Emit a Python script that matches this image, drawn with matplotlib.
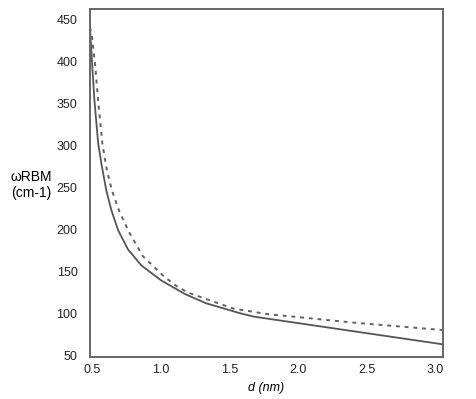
import matplotlib
matplotlib.use('Agg')
import matplotlib.pyplot as plt

# diametro del tubo (nm) y frecuencia RBM (cm-1)
dSolida = [0.485, 0.502, 0.517, 0.544, 0.568, 0.604, 0.641, 0.69, 0.762, 0.859,
           1.005, 1.176, 1.33, 1.58, 1.68, 3.06]
wSolida = [440, 393, 354, 303, 278, 246, 222.6, 198.8, 176, 157,
           139, 123, 112, 100, 96, 63]

dPunteada = [0.485, 0.50, 0.522, 0.545, 0.575, 0.608, 0.645, 0.70, 0.775, 0.87,
             1.03, 1.127, 1.21, 1.53, 1.78, 2.4, 3.06]
wPunteada = [440, 428, 396, 352, 302, 270, 246, 220.6, 195, 168,
             143, 131, 124, 105.6, 99, 89, 80]

ticksX = [0.5, 1.0, 1.5, 2.0, 2.5, 3.0]
ticksY = [50, 100, 150, 200, 250, 300, 350, 400, 450]

plt.rcParams['font.family'] = ['Liberation Sans', 'DejaVu Sans']

fig = plt.figure(figsize=(4.77, 3.99), dpi=100)
ax = fig.add_axes([90/477, 42/399, 353/477, 348/399])

ax.plot(dSolida, wSolida, color='#555555', lw=1.3)
ax.plot(dPunteada, wPunteada, color='#606060', lw=1.4, linestyle=(0, (2, 2.5)))

ax.set_xlim(0.485, 3.058)
ax.set_ylim(48, 462)
ax.set_xticks(ticksX)
ax.set_xticklabels(['%.1f' % t for t in ticksX])
ax.set_yticks(ticksY)
ax.tick_params(length=0, labelsize=9, colors='#222222')
ax.tick_params(axis='y', pad=9)
ax.tick_params(axis='x', pad=5)

for s in ax.spines.values():
    s.set_color('#666666')
    s.set_linewidth(1.4)

ax.set_xlabel('d (nm)', fontsize=9, style='italic', labelpad=4)
fig.text(11/477, 1 - 185/399, 'ωRBM\n(cm-1)', fontsize=10, ha='left', va='center',
         multialignment='left', linespacing=1.2)

fig.savefig('out.png', dpi=100)
